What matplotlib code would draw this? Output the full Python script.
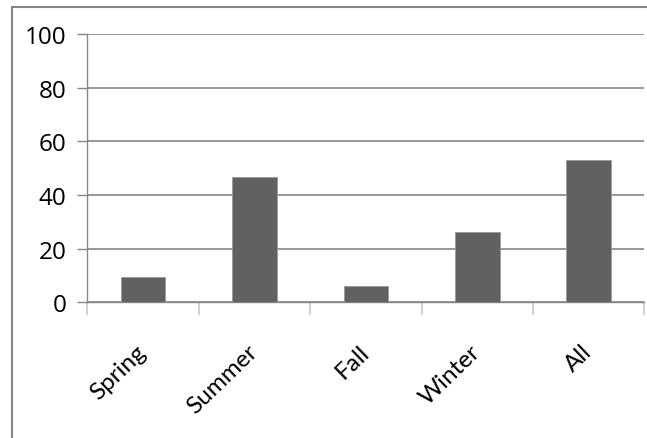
import matplotlib.pyplot as plt
from matplotlib.patches import Rectangle

seasons = ["Spring", "Summer", "Fall", "Winter", "All"]
values = [9.5, 46.6, 6.1, 26.2, 53.0]
y_ticks = [0, 20, 40, 60, 80, 100]

grey = "#868686"
bar_color = "#616161"

fig = plt.figure(figsize=(6.47, 4.39), dpi=100)
ax = fig.add_axes([0.135, 0.309, 0.861, 0.611])

# outer chart frame (only left/top visible in the original)
fig.patches.append(Rectangle((11.5 / 647, -0.05), 1.0, 1.05 - 7.5 / 439,
                             transform=fig.transFigure, fill=False,
                             edgecolor=grey, linewidth=1.5))

x = range(len(seasons))
ax.bar(x, values, width=0.4, color=bar_color, edgecolor="#9a9a9a", linewidth=0.6, zorder=3)

ax.set_xlim(-0.5, len(seasons) - 0.5)
ax.set_ylim(0, 100)
ax.set_yticks(y_ticks)
ax.yaxis.grid(True, color=grey, linewidth=1.2)
ax.set_axisbelow(True)

for side in ["top", "right"]:
    ax.spines[side].set_visible(False)
for side in ["left", "bottom"]:
    ax.spines[side].set_color(grey)
    ax.spines[side].set_linewidth(1.0)

ax.set_xticks(x)
ax.set_xticklabels(seasons, rotation=44, ha="right", va="center",
                   rotation_mode="anchor", fontsize=17.5, family="Lato")
ax.set_xticks([i - 0.5 for i in range(len(seasons) + 1)], minor=True)
ax.tick_params(axis="x", which="major", length=0, pad=33)
ax.tick_params(axis="x", which="minor", length=9, color="#c8c8c8", width=1.2)
ax.tick_params(axis="y", length=7, color=grey, width=1.0, pad=8)
for lab in ax.get_yticklabels():
    lab.set_fontsize(17.5)
    lab.set_family("Open Sans")

fig.savefig("out.png", dpi=100)
